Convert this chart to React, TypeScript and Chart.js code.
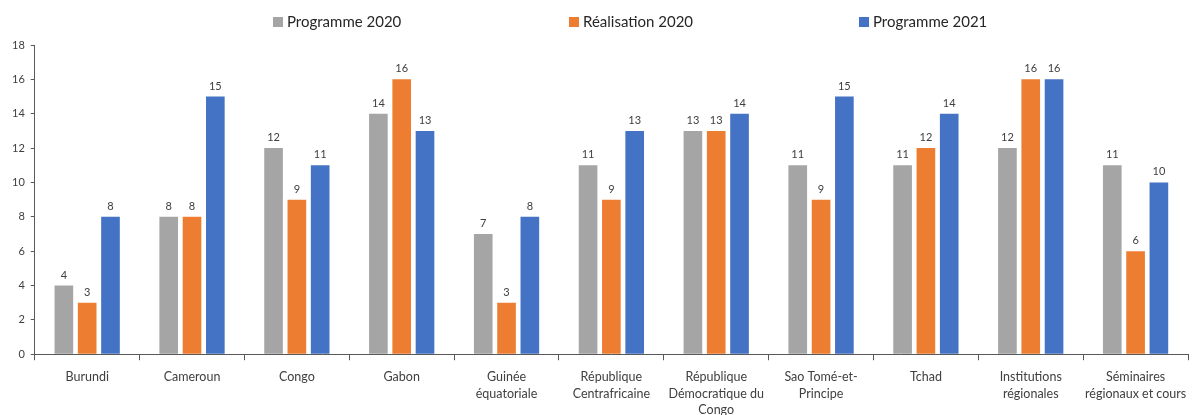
import React, { useEffect, useRef } from "react";
import { Chart, registerables } from "chart.js";

Chart.register(...registerables);

const categories: string[][] = [
  ["Burundi"],
  ["Cameroun"],
  ["Congo"],
  ["Gabon"],
  ["Guinée", "équatoriale"],
  ["République", "Centrafricaine"],
  ["République", "Démocratique du", "Congo"],
  ["Sao Tomé-et-", "Principe"],
  ["Tchad"],
  ["Institutions", "régionales"],
  ["Séminaires", "régionaux et cours"],
];

const programme2020 = [4, 8, 12, 14, 7, 11, 13, 11, 11, 12, 11];
const realisation2020 = [3, 8, 9, 16, 3, 9, 13, 9, 12, 16, 6];
const programme2021 = [8, 15, 11, 13, 8, 13, 14, 15, 14, 16, 10];

const seriesNames = ["Programme 2020", "Réalisation 2020", "Programme 2021"];
const seriesColors = ["#A5A5A5", "#ED7D31", "#4472C4"];
const legendX = [273, 569, 859];

const FONT = "Lato, 'Open Sans', sans-serif";
const TEXT = "#404040";

const valueLabels = {
  id: "valueLabels",
  afterDatasetsDraw(chart: any) {
    const ctx = chart.ctx;
    ctx.save();
    ctx.font = `11px ${FONT}`;
    ctx.fillStyle = TEXT;
    ctx.textAlign = "center";
    ctx.textBaseline = "bottom";
    chart.data.datasets.forEach((ds: any, i: number) => {
      const meta = chart.getDatasetMeta(i);
      meta.data.forEach((bar: any, j: number) => {
        ctx.fillText(String(ds.data[j]), bar.x, bar.y - 5);
      });
    });
    ctx.restore();
  },
};

const customLegend = {
  id: "customLegend",
  afterDraw(chart: any) {
    const ctx = chart.ctx;
    ctx.save();
    ctx.font = `15px ${FONT}`;
    ctx.textBaseline = "middle";
    ctx.textAlign = "left";
    chart.data.datasets.forEach((ds: any, i: number) => {
      const x = legendX[i];
      ctx.fillStyle = ds.backgroundColor;
      ctx.fillRect(x, 17, 10, 10);
      ctx.fillStyle = "#262626";
      ctx.fillText(ds.label, x + 14, 22);
    });
    ctx.restore();
  },
};

export default function App() {
  const ref = useRef<HTMLCanvasElement>(null);
  useEffect(() => {
    document.body.style.margin = "0";
    document.body.style.overflow = "hidden";
    const values = [programme2020, realisation2020, programme2021];
    const chart = new Chart(ref.current!, {
      type: "bar",
      data: {
        labels: categories,
        datasets: values.map((v, i) => ({
          label: seriesNames[i],
          data: v,
          backgroundColor: seriesColors[i],
          borderWidth: 0,
          categoryPercentage: 0.667,
          barPercentage: 0.8,
        })),
      },
      options: {
        responsive: false,
        animation: false,
        layout: { padding: { left: 6, right: 9, top: 45, bottom: 0 } },
        plugins: {
          legend: { display: false },
          tooltip: { enabled: false },
        },
        scales: {
          x: {
            grid: {
              offset: true,
              drawOnChartArea: false,
              drawTicks: true,
              tickLength: 6,
              color: "#595959",
            },
            border: { color: "#595959", width: 1 },
            ticks: {
              color: TEXT,
              font: { family: FONT, size: 12.5, lineHeight: 1.3 },
              padding: 9,
              maxRotation: 0,
              autoSkip: false,
            },
          },
          y: {
            min: 0,
            max: 18,
            grid: {
              drawOnChartArea: false,
              drawTicks: true,
              tickLength: 4,
              color: "#595959",
            },
            border: { color: "#595959", width: 1 },
            ticks: {
              stepSize: 2,
              color: TEXT,
              font: { family: FONT, size: 11 },
              padding: 6,
            },
          },
        },
      },
      plugins: [valueLabels, customLegend],
    });
    return () => chart.destroy();
  }, []);
  return <canvas ref={ref} width={1197} height={427} style={{ display: "block" }} />;
}
